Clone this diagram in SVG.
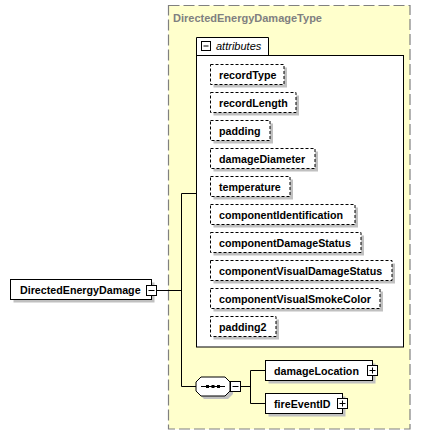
<svg xmlns="http://www.w3.org/2000/svg" width="429" height="435" viewBox="0 0 429 435">
<style>
.t{font-family:"Liberation Sans",Arial,sans-serif;font-weight:bold;font-size:10.7px;fill:#000}
.title{font-family:"Liberation Sans",Arial,sans-serif;font-weight:bold;font-size:11px;fill:#808080}
.attr{font-family:"Liberation Sans",Arial,sans-serif;font-style:italic;font-size:11px;fill:#000}
.sh{fill:#c0c0c0}
.box{fill:#fff;stroke:#000;stroke-width:1}
.dbox{fill:#fff;stroke:#000;stroke-width:1;stroke-dasharray:3,2}
.ic{fill:#fff;stroke:#000;stroke-width:1}
.ln{fill:none;stroke:#000;stroke-width:1}
</style>
<g id="type">
<rect x="168.5" y="5.5" width="241.5" height="423.5" fill="#ffffcc" stroke="#808080" stroke-width="1.2" stroke-dasharray="11,4"/>
<text class="title" x="173" y="22">DirectedEnergyDamageType</text>
</g>
<g id="attributes">
<path d="M196.5,55.5 V37.5 H268.5 V55.5" class="box"/>
<rect x="196.5" y="55.5" width="207" height="291.5" class="box"/>
<rect x="201.5" y="41.5" width="9" height="9" class="ic"/>
<path d="M203.5,46 H208.5" class="ln"/>
<text class="attr" x="216" y="50">attributes</text>
</g>
<g id="recordType"><rect class="sh" x="213.5" y="67.5" width="73.5" height="20"/><rect class="dbox" x="210.5" y="64.5" width="73.5" height="20"/><text class="t" x="219" y="78.5">recordType</text></g>
<g id="recordLength"><rect class="sh" x="213.5" y="95.5" width="85.5" height="20"/><rect class="dbox" x="210.5" y="92.5" width="85.5" height="20"/><text class="t" x="219" y="106.5">recordLength</text></g>
<g id="padding"><rect class="sh" x="213.5" y="123.5" width="59.5" height="20"/><rect class="dbox" x="210.5" y="120.5" width="59.5" height="20"/><text class="t" x="219" y="134.5">padding</text></g>
<g id="damageDiameter"><rect class="sh" x="213.5" y="151.5" width="104.5" height="20"/><rect class="dbox" x="210.5" y="148.5" width="104.5" height="20"/><text class="t" x="219" y="162.5">damageDiameter</text></g>
<g id="temperature"><rect class="sh" x="213.5" y="179.5" width="79.5" height="20"/><rect class="dbox" x="210.5" y="176.5" width="79.5" height="20"/><text class="t" x="219" y="190.5">temperature</text></g>
<g id="componentIdentification"><rect class="sh" x="213.5" y="207.5" width="144.5" height="20"/><rect class="dbox" x="210.5" y="204.5" width="144.5" height="20"/><text class="t" x="219" y="218.5">componentIdentification</text></g>
<g id="componentDamageStatus"><rect class="sh" x="213.5" y="235.5" width="150.5" height="20"/><rect class="dbox" x="210.5" y="232.5" width="150.5" height="20"/><text class="t" x="219" y="246.5">componentDamageStatus</text></g>
<g id="componentVisualDamageStatus"><rect class="sh" x="213.5" y="263.5" width="181.5" height="20"/><rect class="dbox" x="210.5" y="260.5" width="181.5" height="20"/><text class="t" x="219" y="274.5">componentVisualDamageStatus</text></g>
<g id="componentVisualSmokeColor"><rect class="sh" x="213.5" y="291.5" width="169.5" height="20"/><rect class="dbox" x="210.5" y="288.5" width="169.5" height="20"/><text class="t" x="219" y="302.5">componentVisualSmokeColor</text></g>
<g id="padding2"><rect class="sh" x="213.5" y="319.5" width="65.5" height="20"/><rect class="dbox" x="210.5" y="316.5" width="65.5" height="20"/><text class="t" x="219" y="330.5">padding2</text></g>
<g id="connectors">
<path class="ln" d="M157,290.5 H181.5"/>
<path class="ln" d="M196.5,193.5 H181.5 V386.5 H196"/>
<path class="ln" d="M241,386.5 H250.5"/>
<path class="ln" d="M266,370.5 H250.5 V403.5 H266"/>
</g>
<g id="DirectedEnergyDamage">
<rect class="sh" x="13.5" y="282.5" width="141" height="20"/>
<rect class="box" x="10.5" y="279.5" width="141" height="20"/>
<text class="t" x="20" y="293.5">DirectedEnergyDamage</text>
<rect class="ic" x="146.5" y="285.5" width="10" height="10"/>
<path class="ln" d="M148.5,290.5 H154.5"/>
</g>
<g id="sequence">
<polygon class="sh" points="204,380 228,380 233,385 233,394 228,399 204,399 199,394 199,385"/>
<polygon class="box" points="201,377 225,377 230,382 230,391 225,396 201,396 196,391 196,382"/>
<path class="ln" d="M201,386.5 H225"/>
<rect x="206" y="385" width="3" height="3" fill="#000"/>
<rect x="211.5" y="385" width="3" height="3" fill="#000"/>
<rect x="217" y="385" width="3" height="3" fill="#000"/>
<rect class="ic" x="230.5" y="381.5" width="10" height="10"/>
<path class="ln" d="M232.5,386.5 H238.5"/>
</g>
<g id="damageLocation">
<rect class="sh" x="268.5" y="363.5" width="107" height="20"/>
<rect class="box" x="265.5" y="360.5" width="107" height="20"/>
<text class="t" x="274" y="374.5">damageLocation</text>
<rect class="ic" x="367.5" y="365.5" width="10" height="10"/>
<path class="ln" d="M369.5,370.5 H375.5 M372.5,367.5 V373.5"/>
</g>
<g id="fireEventID">
<rect class="sh" x="268.5" y="396.5" width="77" height="20"/>
<rect class="box" x="265.5" y="393.5" width="77" height="20"/>
<text class="t" x="274" y="407.5">fireEventID</text>
<rect class="ic" x="337.5" y="398.5" width="10" height="10"/>
<path class="ln" d="M339.5,403.5 H345.5 M342.5,400.5 V406.5"/>
</g>
</svg>
